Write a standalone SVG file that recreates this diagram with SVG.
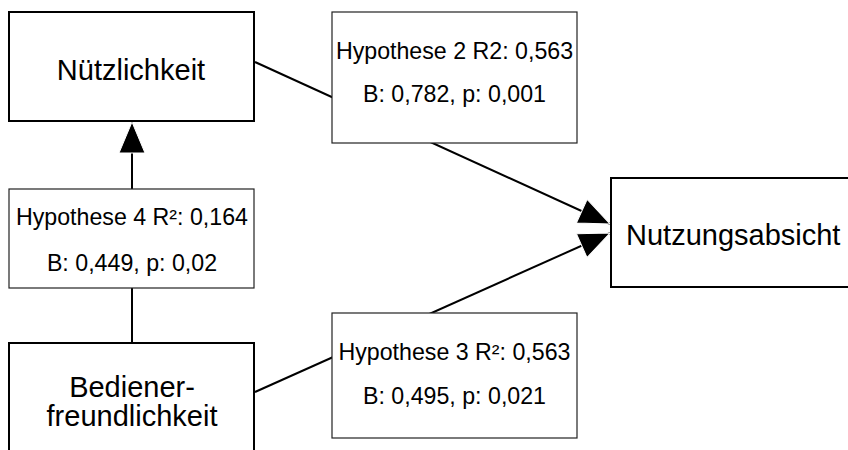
<svg xmlns="http://www.w3.org/2000/svg" width="848" height="450" viewBox="0 0 848 450">
  <style>
    .node { fill: #ffffff; stroke: #000000; stroke-width: 2; }
    .lab { fill: #ffffff; stroke: #222222; stroke-width: 1.2; }
    .big { font-family: "Liberation Sans", Arial, sans-serif; font-size: 29px; fill: #000; text-anchor: middle; }
    .small { font-family: "Liberation Sans", Arial, sans-serif; font-size: 23.2px; fill: #000; text-anchor: middle; }
    .edge { stroke: #000000; stroke-width: 2; fill: none; marker-end: url(#arrow); }
  </style>
  <defs>
    <marker id="arrow" markerUnits="userSpaceOnUse" markerWidth="36" markerHeight="30" refX="32" refY="14" orient="auto" viewBox="0 0 36 30">
      <path d="M1,1 L32,14 L1,27 Z" fill="#000000" stroke="#ffffff" stroke-width="1"/>
    </marker>
  </defs>
  <rect width="848" height="450" fill="#ffffff"/>

  <g id="connectors">
    <line class="edge" x1="132" y1="343" x2="132" y2="122"/>
    <line class="edge" x1="255" y1="62" x2="610" y2="224"/>
    <line class="edge" x1="255" y1="392" x2="610" y2="233"/>
  </g>

  <g id="node-nuetzlichkeit">
    <rect class="node" x="9" y="12" width="245" height="109"/>
    <text class="big" x="131" y="80">Nützlichkeit</text>
  </g>
  <g id="node-bedienerfreundlichkeit">
    <rect class="node" x="9" y="343" width="245" height="120"/>
    <text class="big" x="132" y="397">Bediener-</text>
    <text class="big" x="132" y="426">freundlichkeit</text>
  </g>
  <g id="node-nutzungsabsicht">
    <rect class="node" x="611" y="178" width="260" height="109"/>
    <text class="big" x="626" y="245" style="text-anchor:start">Nutzungsabsicht</text>
  </g>

  <g id="label-h2">
    <rect class="lab" x="332" y="12" width="245" height="131"/>
    <text class="small" x="454.5" y="59">Hypothese 2 R2: 0,563</text>
    <text class="small" x="454.5" y="102">B: 0,782, p: 0,001</text>
  </g>
  <g id="label-h4">
    <rect class="lab" x="9" y="189" width="245" height="99"/>
    <text class="small" x="132" y="225">Hypothese 4 R²: 0,164</text>
    <text class="small" x="132" y="271">B: 0,449, p: 0,02</text>
  </g>
  <g id="label-h3">
    <rect class="lab" x="332" y="313" width="245" height="125"/>
    <text class="small" x="454.5" y="360">Hypothese 3 R²: 0,563</text>
    <text class="small" x="454.5" y="404">B: 0,495, p: 0,021</text>
  </g>
</svg>
